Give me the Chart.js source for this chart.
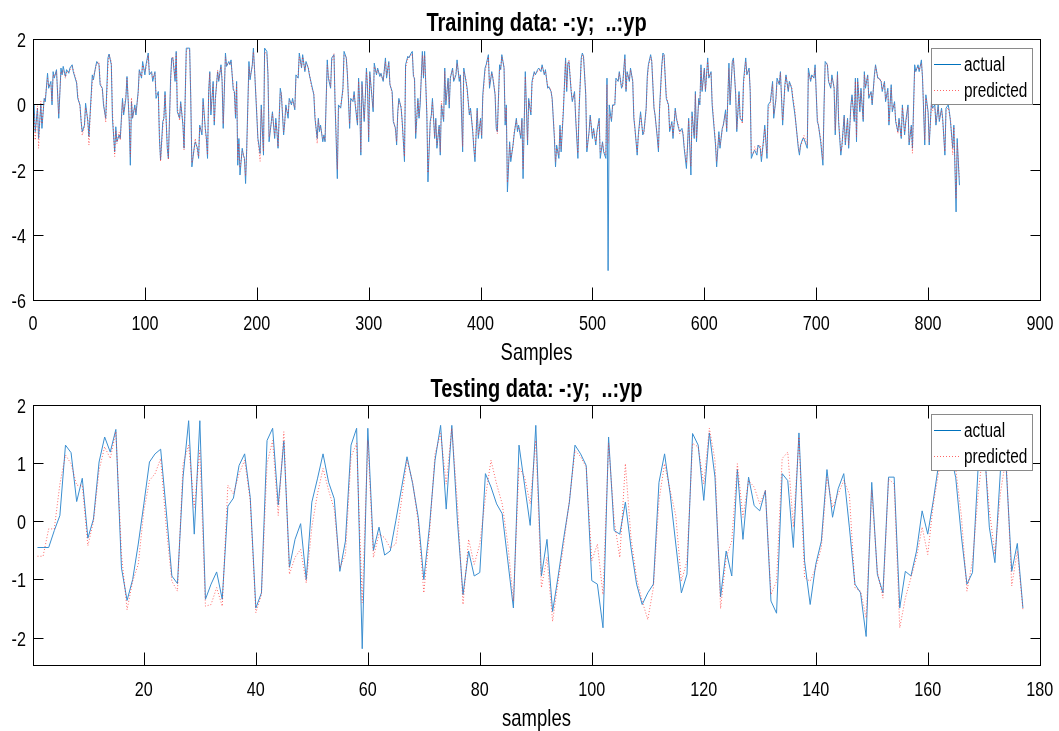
<!DOCTYPE html>
<html>
<head>
<meta charset="utf-8">
<script src="https://cdn.jsdelivr.net/npm/chart.js@4.4.0/dist/chart.umd.min.js"></script>
<style>
  html, body { margin: 0; padding: 0; background: #fff; }
  #wrap { position: relative; width: 1059px; height: 731px; overflow: hidden; }
  canvas { position: absolute; left: 0; }
</style>
</head>
<body>
<div id="wrap">
  <canvas id="trainChart" width="1059" height="366" style="top:0"></canvas>
  <canvas id="testChart" width="1059" height="365" style="top:366px"></canvas>
</div>
<script>
// Обучающая выборка: номера отсчётов и значения
const trainSamples = [
  1,2,4,5,7,8,10,11,13,14, 16,17,18,19,21,23,25,26,27,29, 30,32,33,35,36,39,40,42,43,44,
  46,47,49,50,51,53,54,56,57,59, 60,62,63,65,67,68,70,71,73,74, 75,77,78,80,81,83,84,86,87,88,
  89,91,92,94,95,97,98,100,101,103, 104,106,107,109,110,112,113,114,116,117, 118,120,121,123,124,125,127,128,129,131,
  132,134,135,137,138,140,141,142,144,145, 147,148,149,151,152,154,155,156,157,158, 159,161,162,163,165,166,168,169,170,172,
  173,175,176,177,179,180,181,182,183,184, 185,187,188,189,190,191,193,194,196,197, 198,200,201,203,204,206,207,209,210,211,
  213,214,216,217,218,219,221,222,224,225, 226,228,229,231,232,234,235,237,238,240, 241,243,244,246,247,249,251,252,254,255,
  256,257,259,260,261,263,264,266,267,269, 270,272,273,275,277,278,280,281,283,284, 286,287,288,290,291,292,293,294,296,297,
  298,299,300,301,303,304,305,307,308,310, 311,313,315,316,318,319,321,322,324,325, 326,327,329,330,332,333,335,336,338,339,
  340,341,342,344,345,346,348,349,350,352, 353,355,356,357,359,360,361,363,364,365, 367,368,369,371,372,373,375,376,378,379,
  381,382,384,385,387,388,390,391,393,394, 395,397,398,400,401,402,404,405,407,408, 410,411,413,414,415,417,418,419,421,422,
  423,424,426,427,429,430,432,433,434,436, 437,438,440,442,443,445,446,448,449,451, 452,454,455,457,458,460,461,463,464,466,
  467,468,470,471,472,474,476,477,478,479, 481,482,484,485,487,488,490,491,492,494, 495,497,498,500,501,503,504,506,507,509,
  510,512,513,514,515,517,518,520,521,523, 524,526,527,529,530,531,533,534,536,537, 538,540,541,543,545,546,548,549,550,552,
  553,555,556,558,559,560,562,563,564,566, 568,569,571,572,574,575,577,578,580,581, 582,584,585,586,588,589,591,592,593,595,
  596,597,598,600,601,603,604,606,607,609, 610,611,613,614,616,617,619,620,622,623, 625,626,628,629,631,632,634,635,637,638,
  640,641,642,644,645,647,648,650,651,653, 654,656,657,659,660,661,662,664,665,667, 668,669,670,672,673,675,676,678,679,681,
  682,684,685,686,688,689,691,692,693,695, 696,698,699,701,702,704,706,707,708,710, 711,713,714,716,717,719,720,722,723,725,
  726,728,729,731,732,734,735,736,737,739, 740,742,743,744,746,747,749,750,752,753, 755,756,758,759,761,762,764,765,767,768,
  770,771,773,774,776,777,779,780,782,783, 785,786,788,789,791,792,794,795,797,798, 800,801,803,804,806,807,809,810,812,813,
  815,816,818,819,820,822,823,825,826,828
];
const trainActual = [
  -0.02,-0.84,-0.12,-1.05,-0.02,-0.74,0.18,0.08,0.95,0.49, 0.70,-0.02,1.0,0.8,1.06,-0.43,1.11,0.9,1.16,0.85, 1.06,0.95,1.11,1.21,1.0,0.65,0.18,-0.02,-0.53,-0.84,
  -0.64,0.03,-0.53,-0.99,-0.33,0.9,0.75,1.16,1.31,1.21, 0.6,0.49,-0.02,-0.43,1.42,1.54,1.21,-0.43,-1.46,-0.69, -1.15,-0.94,-1.05,0.18,-0.33,0.18,0.85,-0.53,-1.87,0.08,
  -0.43,-0.02,-0.33,0.39,1.06,0.8,1.31,0.9,1.21,1.57, 0.9,1.0,0.7,1.0,0.18,0.39,-1.05,-1.71,-0.53,-0.43, 0.39,-1.35,-1.66,0.8,1.42,1.42,0.7,1.62,-0.23,-0.43,
  0.08,-0.64,-1.35,1.72,1.72,1.72,0.18,-1.92,-1.35,-1.15, -1.35,-1.66,-0.64,-0.94,0.18,-0.74,-1.05,-1.66,0.39,1.0, -0.33,0.7,-0.64,0.18,1.0,0.7,1.21,0.7,-0.74,1.57,
  1.16,1.31,1.21,1.36,0.44,0.39,-0.43,0.7,-1.87,-1.05, -2.17,-1.35,-1.56,-1.66,-2.43,-1.35,1.31,0.75,1.21,1.72, 1.06,-0.33,-1.05,-1.51,-0.02,-1.56,1.72,1.62,0.9,-1.15,
  -0.53,-0.23,-1.05,-0.43,-0.84,-1.35,0.49,0.29,-0.94,-0.53, -0.02,-0.43,0.18,-0.02,0.18,-0.17,0.9,0.8,1.57,1.11, 1.52,1.0,1.31,1.11,0.9,0.6,0.29,-0.43,-1.05,-0.43,
  -0.84,-0.64,-1.15,-0.94,-1.15,1.36,0.8,0.49,1.42,1.52, -0.02,-2.28,-0.02,-0.12,0.49,1.62,1.42,0.9,-0.74,0.18, 0.08,0.39,-0.02,-0.64,0.8,-0.02,-1.56,0.7,-0.53,0.18,
  1.11,0.49,-1.15,1.0,0.18,-0.23,1.26,0.9,1.11,0.85, 0.95,0.7,1.42,0.8,1.31,0.6,0.39,-0.53,-0.74,-1.25, -0.23,0.18,-0.12,-0.53,-1.76,1.21,1.47,1.42,1.57,1.62,
  0.85,0.8,-1.05,0.18,-0.43,-0.02,1.62,0.8,1.62,-0.33, -2.38,-0.53,-0.33,0.18,-1.05,-0.43,-1.35,-0.64,-1.56,-0.02, -0.53,1.11,-0.02,0.8,-0.12,0.8,1.11,0.7,0.9,1.36,
  0.7,0.9,-1.46,1.11,0.7,0.49,-0.33,-0.12,-0.84,-1.35, -1.76,-0.12,-1.05,-0.43,-1.05,0.29,1.11,1.21,1.52,0.49, 1.0,0.8,0.29,-0.74,-0.84,1.21,1.06,1.52,1.11,-0.64,
  -0.02,-2.69,-1.15,-1.76,-1.25,-0.94,-0.43,-0.84,-0.64,-1.05, -0.43,-2.28,1.0,-1.25,0.18,-0.33,0.7,1.0,0.9,1.06, 1.11,1.0,1.21,0.9,1.06,0.49,0.54,0.39,0.18,-1.05,
  -1.92,-1.25,-1.66,-0.64,-1.46,-0.23,1.42,0.39,1.26,1.31, 0.39,0.08,0.39,-0.43,-1.66,-0.23,1.42,1.57,1.47,0.29, -1.46,-0.84,-0.33,-1.05,-0.74,-1.25,-0.84,-0.43,-1.66,-1.15,
  -1.46,-1.66,0.8,-5.1,-0.02,-0.53,-0.02,-0.02,0.8,0.7, 1.0,0.49,0.6,1.52,0.39,1.0,0.7,1.11,0.7,-0.43, -0.74,-1.56,-0.94,-0.23,-0.94,-0.84,-0.12,0.85,1.21,1.52,
  1.31,-0.12,-0.33,-1.05,-1.46,-0.12,1.21,1.57,1.52,0.18, -0.02,-0.84,-0.53,-1.05,-0.12,-0.43,-0.74,-0.84,-0.74,-0.94, -1.35,-1.97,-1.25,-0.43,-2.17,-0.23,-1.05,0.39,-1.15,0.18,
  -0.02,1.21,0.39,1.11,0.39,1.42,0.8,1.0,-0.02,-0.84, -1.25,-1.92,-0.84,-1.35,-0.74,-0.64,-0.17,-0.84,1.26,-0.02, 1.31,1.42,0.29,-0.84,0.39,-0.43,-0.53,0.7,1.42,0.9,
  1.11,0.39,-1.66,-1.46,-1.41,-1.56,-1.25,-1.35,-1.76,-1.05, -0.64,-1.66,-0.02,0.08,0.39,0.7,-0.43,0.18,0.8,0.6, 1.0,0.18,-0.64,0.6,0.9,0.39,0.7,0.49,0.18,-0.33,
  -0.64,-1.35,-1.56,-1.25,-1.05,-1.05,-1.25,-1.35,1.11,0.7, 0.9,0.8,1.21,-0.53,-0.64,-1.15,-1.87,-0.02,1.31,1.21, 0.7,0.49,0.9,0.49,-0.94,1.0,-0.53,-1.56,-1.25,-0.33,
  -1.25,-0.43,-1.35,-0.02,0.29,-0.53,0.8,-1.15,0.8,-0.23, 0.49,-0.53,1.0,0.49,0.9,0.18,0.39,-0.02,0.9,1.21, 0.8,0.8,0.7,0.39,0.7,0.08,0.49,-0.64,0.6,-0.23,
  0.08,-0.53,-0.84,-0.43,-1.05,-0.02,-0.94,-0.53,-0.02,-1.25, -0.64,-1.35,1.21,1.0,1.21,1.0,1.36,0.8,-1.25,0.29, -0.23,-1.25,0.08,-0.12,-0.02,-0.64,-0.02,-0.53,-0.12,-0.43,
  -1.56,-0.12,-0.02,-0.23,-0.53,-1.35,-0.64,-3.3,-1.05,-2.48
];
const trainPredicted = [
  -0.3,-1.1,-0.05,-1.35,0.1,-0.6,0.1,0.2,0.8,0.55, 0.6,0.1,0.9,0.85,1.0,-0.3,1.0,0.95,1.05,0.8, 1.0,1.0,1.05,1.15,1.05,0.7,0.3,-0.1,-0.45,-0.95,
  -0.7,-0.1,-0.45,-1.25,-0.4,0.7,0.85,1.1,1.25,1.3, 0.7,0.4,0.1,-0.55,1.2,1.5,1.3,-0.2,-1.6,-0.8, -1.2,-0.85,-1.1,0.05,-0.25,0.3,0.8,-0.4,-1.6,0.2,
  -0.4,-0.1,-0.25,0.3,1.0,0.85,1.2,1.0,1.1,1.5, 1.0,0.95,0.8,0.95,0.3,0.3,-0.9,-1.75,-0.7,-0.35, 0.3,-1.2,-1.7,0.6,1.35,1.45,0.8,1.55,-0.1,-0.5,
  0.0,-0.55,-1.4,1.6,1.7,1.65,0.3,-1.8,-1.4,-1.05, -1.45,-1.6,-0.7,-0.85,0.05,-0.8,-1.15,-1.55,0.3,0.95, -0.2,0.6,-0.55,0.1,1.05,0.75,1.15,0.8,-0.6,1.45,
  1.2,1.25,1.25,1.3,0.55,0.3,-0.3,0.6,-1.7,-1.2, -1.95,-1.45,-1.5,-1.75,-2.2,-1.5,1.15,0.85,1.15,1.6, 1.1,-0.2,-1.1,-1.75,-0.15,-1.45,1.6,1.55,1.0,-1.0,
  -0.6,-0.3,-0.95,-0.55,-0.75,-1.3,0.35,0.35,-0.85,-0.6, -0.1,-0.3,0.1,0.05,0.1,-0.1,0.75,0.9,1.45,1.15, 1.45,1.05,1.25,1.15,0.95,0.5,0.35,-0.3,-1.2,-0.5,
  -0.75,-0.7,-1.05,-1.0,-1.1,1.2,0.9,0.55,1.3,1.55, 0.1,-2.0,-0.15,-0.05,0.4,1.5,1.45,0.95,-0.6,0.1, 0.15,0.3,0.05,-0.55,0.7,0.1,-1.45,0.6,-0.45,0.25,
  1.0,0.55,-1.0,0.9,0.25,-0.1,1.15,0.95,1.05,0.9, 0.9,0.75,1.3,0.9,1.25,0.65,0.3,-0.45,-0.8,-1.15, -0.35,0.1,-0.05,-0.6,-1.6,1.1,1.4,1.45,1.5,1.55,
  0.95,0.7,-0.9,0.1,-0.35,0.1,1.5,0.9,1.5,-0.2, -2.1,-0.6,-0.4,0.05,-1.0,-0.5,-1.25,-0.7,-1.45,0.1, -0.45,1.0,0.1,0.7,0.0,0.85,1.05,0.75,0.95,1.25,
  0.8,0.85,-1.3,1.0,0.75,0.4,-0.25,-0.2,-0.75,-1.3, -1.6,-0.2,-0.95,-0.5,-0.95,0.15,1.0,1.15,1.45,0.6, 0.95,0.85,0.35,-0.6,-0.9,1.1,1.1,1.45,1.15,-0.5,
  -0.1,-2.4,-1.25,-1.65,-1.3,-0.85,-0.5,-0.75,-0.7,-0.95, -0.5,-2.0,0.85,-1.1,0.1,-0.25,0.6,0.95,0.95,1.0, 1.05,1.05,1.15,0.95,1.0,0.55,0.5,0.45,0.1,-0.9,
  -1.75,-1.35,-1.55,-0.75,-1.35,-0.1,1.3,0.5,1.2,1.35, 0.45,0.15,0.3,-0.35,-1.5,-0.1,1.3,1.5,1.5,0.4, -1.35,-0.9,-0.4,-0.95,-0.8,-1.15,-0.9,-0.5,-1.5,-1.2,
  -1.4,-1.55,0.6,-1.2,-0.3,-0.45,-0.1,0.05,0.7,0.75, 0.95,0.55,0.55,1.4,0.45,0.95,0.75,1.05,0.75,-0.3, -0.8,-1.45,-1.0,-0.35,-0.85,-0.9,-0.2,0.7,1.15,1.45,
  1.35,-0.05,-0.4,-0.95,-1.35,-0.2,1.1,1.5,1.5,0.3, -0.1,-0.75,-0.6,-0.95,-0.2,-0.4,-0.65,-0.9,-0.8,-0.85, -1.25,-1.8,-1.3,-0.5,-1.9,-0.35,-0.95,0.3,-1.05,0.1,
  0.05,1.1,0.45,1.05,0.45,1.3,0.85,0.95,0.1,-0.75, -1.15,-1.75,-0.95,-1.25,-0.8,-0.6,-0.3,-0.75,1.1,0.1, 1.25,1.35,0.4,-0.75,0.3,-0.35,-0.6,0.6,1.3,0.95,
  1.05,0.5,-1.5,-1.5,-1.3,-1.45,-1.3,-1.25,-1.6,-1.15, -0.75,-1.5,-0.15,0.0,0.3,0.6,-0.3,0.1,0.7,0.65, 0.95,0.25,-0.5,0.5,0.85,0.45,0.65,0.55,0.25,-0.2,
  -0.7,-1.25,-1.45,-1.3,-1.1,-0.95,-1.15,-1.25,0.95,0.75, 0.85,0.85,1.1,-0.4,-0.7,-1.05,-1.7,-0.15,1.2,1.25, 0.75,0.55,0.8,0.55,-0.8,0.9,-0.45,-1.45,-1.3,-0.4,
  -1.15,-0.5,-1.25,-0.1,0.2,-0.45,0.7,-1.0,0.7,-0.1, 0.4,-0.45,0.9,0.55,0.85,0.25,0.35,0.05,0.8,1.15, 0.85,0.75,0.75,0.45,0.65,0.15,0.4,-0.55,0.5,-0.15,
  0.0,-0.45,-0.9,-0.5,-1.0,-0.1,-0.85,-0.6,-0.1,-1.15, -0.7,-1.5,1.05,1.05,1.15,1.05,1.25,0.85,-1.1,0.2, -0.3,-1.15,0.0,-0.2,-0.1,-0.55,-0.1,-0.45,-0.2,-0.5,
  -1.45,-0.2,-0.1,-0.3,-0.45,-1.55,-0.7,-2.9,-1.2,-2.3
];

// Тестовая выборка: 177 отсчётов
const testSamples = Array.from({ length: 177 }, (_, i) => i + 1);
const testActual = [
  -0.45,-0.45,-0.45,-0.16,0.1,1.31,1.18,0.34,0.74,-0.29, 0.04,1.02,1.45,1.19,1.58,-0.8,-1.36,-1.0,-0.39,0.3,
  1.02,1.16,1.24,0.18,-0.94,-1.07,0.76,1.73,-0.22,1.73, -1.34,-1.08,-0.87,-1.34,0.26,0.4,0.96,1.16,0.41,-1.49,
  -1.23,1.39,1.6,0.28,1.38,-0.79,-0.31,-0.04,-1.0,0.33, 0.73,1.16,0.67,0.39,-0.86,-0.34,1.31,1.6,-2.19,1.6,
  -0.5,-0.1,-0.58,-0.51,0.01,0.56,1.11,0.65,0.07,-1.0, -0.1,1.05,1.65,0.21,1.65,0.01,-1.26,-0.51,-0.94,-0.88,
  0.82,0.59,0.3,0.13,-0.68,-1.49,1.31,0.62,-0.07,1.65, -0.94,-0.31,-1.55,-0.94,-0.28,0.33,1.31,1.16,0.96,-1.02,
  -1.08,-1.83,1.45,-0.16,-0.22,0.33,-0.45,-1.08,-1.43,-1.23, -1.08,0.67,1.16,0.47,-0.39,-1.23,-0.91,1.51,1.31,0.36,
  1.52,0.76,-1.3,-0.51,-0.94,0.89,-0.31,0.76,0.27,0.18, 0.53,-1.37,-1.58,0.82,0.7,-0.45,1.52,-0.68,-1.43,-0.74,
  -0.34,0.89,0.07,0.56,0.82,-0.1,-1.08,-1.23,-1.98,0.67, -0.91,-1.23,0.76,0.76,-1.49,-0.86,-0.94,-0.51,0.18,-0.22,
  0.36,1.02,1.5,1.2,0.75,-0.25,-1.08,-0.88,0.93,1.5, -0.1,-0.71,0.9,0.95,-0.86,-0.38,-1.49
];
const testPredicted = [
  -0.6,-0.6,-0.13,-0.13,0.64,1.14,0.99,0.62,0.62,-0.42, 0.0,0.88,1.28,1.08,1.54,-0.57,-1.52,-1.03,-0.74,0.18,
  0.7,0.82,1.08,-0.1,-1.03,-1.2,0.99,1.31,0.24,1.22, -1.46,-1.43,-1.14,-1.46,0.62,0.47,0.82,1.05,0.36,-1.57,
  -1.26,0.99,1.39,0.1,1.54,-0.91,-0.62,-0.48,-1.06,-0.1, 0.47,0.91,0.53,0.21,-0.8,-0.57,1.11,1.34,-1.4,1.39,
  -0.62,-0.22,-0.28,-0.46,-0.39,0.35,1.05,0.68,-0.02,-1.23, -0.22,1.16,1.51,0.64,1.6,0.3,-1.43,-0.31,-0.74,-0.39,
  0.41,1.05,0.64,0.3,-0.39,-1.37,0.93,0.76,0.3,1.39, -1.14,-0.62,-1.72,-1.03,-0.39,0.36,1.22,1.11,0.93,-0.68,
  -0.39,-1.26,1.34,0.01,-0.62,0.99,-0.28,-0.97,-1.37,-1.69, -1.14,0.36,0.99,0.53,0.1,-1.03,-0.68,1.34,1.28,0.64,
  1.6,1.05,-1.5,-0.62,-0.34,0.99,0.07,0.7,0.59,0.3, 0.53,-1.26,-1.03,1.08,1.19,-0.1,1.45,-0.97,-1.03,-0.8,
  -0.45,0.76,0.24,0.47,0.7,0.47,-1.14,-1.2,-1.66,0.53, -0.86,-1.32,0.73,0.64,-1.83,-1.32,-0.97,-0.62,-0.1,-0.57,
  0.3,0.87,1.3,1.4,0.9,0.1,-1.2,-0.68,0.47,1.3, 0.2,-0.57,0.5,1.1,-1.11,-0.51,-1.52
];

// Деления осей
const trainXTicks = [0, 100, 200, 300, 400, 500, 600, 700, 800, 900];
const trainYTicks = [-6, -4, -2, 0, 2];
const testXTicks = [20, 40, 60, 80, 100, 120, 140, 160, 180];
const testYTicks = [-2, -1, 0, 1, 2];

const FONT = '"Liberation Sans", Arial, sans-serif';
const SQUEEZE = 0.77; // картинка сжата по горизонтали

function drawText(ctx, s, x, y, size, bold, align) {
  ctx.save();
  ctx.translate(x, y);
  ctx.scale(SQUEEZE, 1);
  ctx.font = (bold ? "bold " : "") + size + "px " + FONT;
  ctx.textAlign = align;
  ctx.textBaseline = "alphabetic";
  ctx.fillStyle = "#000";
  ctx.fillText(s, 0, 0);
  ctx.restore();
}

// Рамка, деления, подписи и легенда в стиле MATLAB
const matlabAxes = {
  id: "matlabAxes",
  afterDatasetsDraw(chart, args, opts) {
    const { ctx, chartArea: a } = chart;
    const xs = chart.scales.x;
    const ys = chart.scales.y;
    const L = Math.round(a.left) + 0.5;
    const R = Math.round(a.right) + 0.5;
    const T = Math.round(a.top) + 0.5;
    const B = Math.round(a.bottom) + 0.5;

    ctx.save();
    ctx.strokeStyle = "#000";
    ctx.lineWidth = 1;
    ctx.strokeRect(L, T, R - L, B - T);

    ctx.beginPath();
    opts.xTicks.forEach((v) => {
      const px = Math.round(xs.getPixelForValue(v)) + 0.5;
      ctx.moveTo(px, B); ctx.lineTo(px, B - 13);
      ctx.moveTo(px, T); ctx.lineTo(px, T + 13);
    });
    opts.yTicks.forEach((v) => {
      const py = Math.round(ys.getPixelForValue(v)) + 0.5;
      ctx.moveTo(L, py); ctx.lineTo(L + 10, py);
      ctx.moveTo(R, py); ctx.lineTo(R - 10, py);
    });
    ctx.stroke();
    ctx.restore();

    opts.xTicks.forEach((v) => drawText(ctx, String(v), xs.getPixelForValue(v), 330, 21, false, "center"));
    opts.yTicks.forEach((v) => drawText(ctx, String(v), 26, ys.getPixelForValue(v) + 8, 21, false, "right"));

    const cx = (a.left + a.right) / 2;
    drawText(ctx, opts.title, cx, 31, 26, true, "center");
    drawText(ctx, opts.xLabel, cx, 360, 24, false, "center");

    // Легенда
    ctx.save();
    ctx.fillStyle = "#fff";
    ctx.fillRect(931, 48, 101, 56);
    ctx.strokeStyle = "#8a8a8a";
    ctx.lineWidth = 1;
    ctx.strokeRect(931.5, 48.5, 101, 56);
    ctx.beginPath();
    ctx.strokeStyle = "#0072bd";
    ctx.moveTo(934, 64.5); ctx.lineTo(961, 64.5);
    ctx.stroke();
    ctx.beginPath();
    ctx.strokeStyle = "rgba(255,0,0,0.6)";
    ctx.setLineDash([1, 2]);
    ctx.moveTo(934, 90.5); ctx.lineTo(961, 90.5);
    ctx.stroke();
    ctx.restore();
    drawText(ctx, "actual", 964, 71, 20, false, "left");
    drawText(ctx, "predicted", 964, 97, 20, false, "left");
  },
};

function makeChart(canvas, xs, actual, predicted, cfg) {
  return new Chart(canvas, {
    type: "line",
    data: {
      datasets: [
        {
          label: "actual",
          data: xs.map((x, i) => ({ x, y: actual[i] })),
          borderColor: "#3a8ed0",
          borderWidth: 1,
          pointRadius: 0,
          order: 1,
        },
        {
          label: "predicted",
          data: xs.map((x, i) => ({ x, y: predicted[i] })),
          borderColor: "rgba(255,40,40,0.7)",
          borderWidth: 1,
          borderDash: [1, 2],
          pointRadius: 0,
          order: 0,
        },
      ],
    },
    options: {
      responsive: false,
      animation: false,
      layout: { padding: { left: 33, right: 19, top: 39, bottom: 66 } },
      scales: {
        x: { type: "linear", display: false, min: cfg.xMin, max: cfg.xMax },
        y: { type: "linear", display: false, min: cfg.yMin, max: cfg.yMax },
      },
      plugins: {
        legend: { display: false },
        tooltip: { enabled: false },
        matlabAxes: cfg,
      },
    },
    plugins: [matlabAxes],
  });
}

makeChart(document.getElementById("trainChart"), trainSamples, trainActual, trainPredicted, {
  xMin: 0, xMax: 900, yMin: -6, yMax: 2,
  xTicks: trainXTicks, yTicks: trainYTicks,
  title: "Training data: -:y;  ..:yp", xLabel: "Samples",
});

makeChart(document.getElementById("testChart"), testSamples, testActual, testPredicted, {
  xMin: 0.2, xMax: 180.05, yMin: -2.47, yMax: 2,
  xTicks: testXTicks, yTicks: testYTicks,
  title: "Testing data: -:y;  ..:yp", xLabel: "samples",
});
</script>
</body>
</html>
